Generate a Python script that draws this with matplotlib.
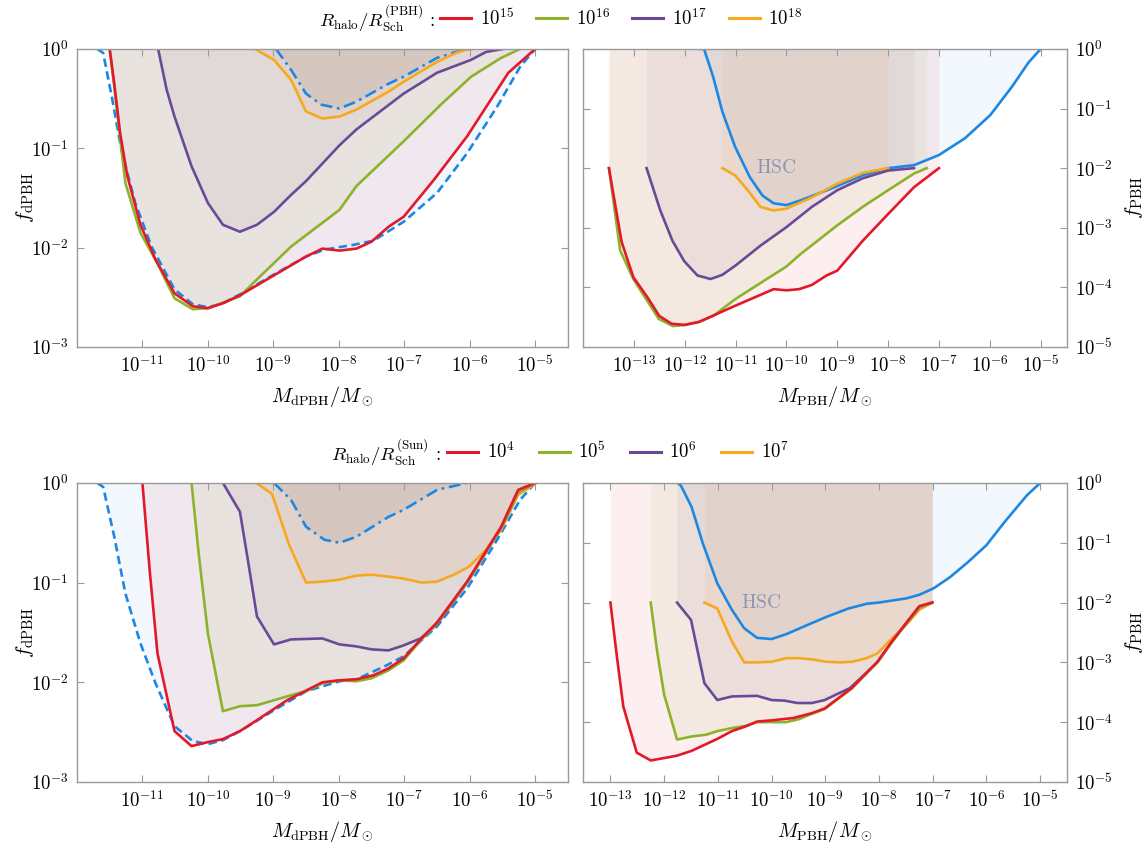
import numpy as np
import matplotlib
matplotlib.use('Agg')
import matplotlib.pyplot as plt
from matplotlib.lines import Line2D
from matplotlib.ticker import NullLocator

plt.rcParams['mathtext.fontset'] = 'cm'
plt.rcParams['font.family'] = 'serif'
plt.rcParams['font.serif'] = ['DejaVu Serif']

red = '#e3192b'
green = '#8cb32a'
purple = '#6a4a98'
orange = '#f6a81f'
blue = '#1c88e3'

# all values are log10(M/Msun), log10(f)
# ---- top left: dPBH, R_halo/R_Sch^(PBH)
tl_dash_x = [-11.69, -11.6, -11.46, -11.32, -11.11, -10.86, -10.51, -10.23, -10.0, -9.77, -9.51, -8.99, -8.5,
             -8.22, -7.76, -7.47, -7.01, -6.5, -6.04, -5.58, -5.23, -5.0]
tl_dash_y = [0, -0.04, -0.51, -1.02, -1.55, -1.99, -2.42, -2.57, -2.60, -2.56, -2.47, -2.27, -2.09,
             -2.02, -1.97, -1.93, -1.74, -1.45, -1.05, -0.58, -0.18, 0]
tl_dd_x = [-8.96, -8.73, -8.5, -8.27, -7.99, -7.73, -7.24, -7.01, -6.5, -6.21, -6.0]
tl_dd_y = [0, -0.21, -0.45, -0.56, -0.60, -0.53, -0.35, -0.28, -0.09, -0.03, 0]
tl_15_x = [-11.5, -11.43, -11.34, -11.23, -11.03, -10.8, -10.51, -10.23, -10.0, -9.77, -9.51, -9.02, -8.5,
           -8.25, -7.99, -7.73, -7.5, -7.24, -7.01, -6.55, -6.04, -5.41, -5.0]
tl_15_y = [0, -0.35, -0.85, -1.28, -1.77, -2.12, -2.46, -2.59, -2.61, -2.56, -2.48, -2.29, -2.09,
           -2.01, -2.03, -2.01, -1.94, -1.79, -1.69, -1.32, -0.88, -0.24, 0]
tl_16_x = [-11.5, -11.43, -11.34, -11.26, -11.03, -10.77, -10.51, -10.23, -10.0, -9.51, -9.25, -8.73, -7.99,
           -7.73, -7.01, -6.44, -5.98, -5.52, -5.23]
tl_16_y = [0, -0.38, -0.9, -1.35, -1.85, -2.16, -2.51, -2.62, -2.61, -2.49, -2.32, -1.99, -1.62,
           -1.38, -0.93, -0.56, -0.28, -0.09, 0]
tl_17_x = [-10.76, -10.63, -10.51, -10.25, -10.0, -9.77, -9.51, -9.25, -8.99, -8.73, -8.5, -7.99, -7.73,
           -7.01, -6.5, -5.98, -5.75, -5.49]
tl_17_y = [0, -0.41, -0.68, -1.18, -1.55, -1.77, -1.84, -1.77, -1.64, -1.47, -1.33, -0.97, -0.81,
           -0.45, -0.24, -0.11, -0.03, 0]
tl_18_x = [-9.28, -8.99, -8.73, -8.5, -8.25, -7.99, -7.73, -7.24, -7.01, -6.5, -6.21, -6.01]
tl_18_y = [0, -0.11, -0.31, -0.63, -0.70, -0.68, -0.61, -0.43, -0.33, -0.13, -0.04, 0]

# ---- top right: PBH
tr_hsc_x = [-11.7, -11.62, -11.44, -11.26, -11.01, -10.72, -10.47, -10.25, -10.0, -9.72, -9.14, -8.5, -8.0,
            -7.49, -7.0, -6.49, -5.99, -5.56, -5.24, -5.0]
tr_hsc_y = [0, 0, -0.47, -1.05, -1.64, -2.15, -2.46, -2.59, -2.62, -2.54, -2.35, -2.12, -2.0,
            -1.95, -1.78, -1.50, -1.11, -0.63, -0.23, 0]
tr_15_x = [-13.49, -13.37, -13.24, -13.01, -12.73, -12.5, -12.26, -12.0, -11.72, -11.01, -10.25, -10.0, -9.75,
           -9.5, -9.21, -9.0, -8.5, -8.0, -7.49, -7.0]
tr_15_y = [-2.0, -2.6, -3.24, -3.83, -4.17, -4.48, -4.61, -4.63, -4.58, -4.31, -4.03, -4.05, -4.03,
           -3.96, -3.80, -3.72, -3.22, -2.77, -2.32, -2.0]
tr_16_x = [-13.49, -13.27, -13.01, -12.51, -12.23, -12.0, -11.72, -11.44, -11.01, -10.0, -9.72, -9.0, -8.5,
           -8.0, -7.49, -7.24]
tr_16_y = [-2.0, -3.38, -3.86, -4.53, -4.65, -4.63, -4.58, -4.48, -4.20, -3.65, -3.44, -2.96, -2.65,
           -2.37, -2.09, -2.0]
tr_17_x = [-12.75, -12.48, -12.24, -12.01, -11.75, -11.49, -11.26, -11.01, -10.51, -10.0, -9.5, -9.0, -8.5,
           -8.0, -7.49]
tr_17_y = [-2.0, -2.71, -3.22, -3.56, -3.80, -3.86, -3.79, -3.64, -3.30, -2.99, -2.65, -2.37, -2.17,
           -2.04, -2.0]
tr_18_x = [-11.26, -11.01, -10.76, -10.51, -10.25, -10.0, -9.5, -9.0, -8.5, -8.0]
tr_18_y = [-2.0, -2.12, -2.37, -2.65, -2.71, -2.68, -2.49, -2.26, -2.08, -2.0]

# ---- bottom left: dPBH, R_halo/R_Sch^(Sun)
bl_dash_x = [-11.69, -11.6, -11.43, -11.26, -11.03, -10.8, -10.51, -10.23, -10.0, -9.77, -9.51, -8.99, -8.5,
             -7.99, -7.73, -7.3, -7.01, -6.5, -6.04, -5.58, -5.23, -5.0]
bl_dash_y = [0, -0.04, -0.54, -1.11, -1.61, -2.01, -2.44, -2.59, -2.62, -2.58, -2.49, -2.28, -2.09,
             -1.99, -1.97, -1.84, -1.74, -1.44, -1.06, -0.57, -0.17, 0]
bl_dd_x = [-8.99, -8.73, -8.5, -8.22, -7.99, -7.73, -7.24, -7.01, -6.5, -6.04]
bl_dd_y = [0, -0.17, -0.44, -0.57, -0.60, -0.54, -0.34, -0.27, -0.07, 0]
bl_4_x = [-11.0, -10.89, -10.77, -10.51, -10.25, -10.0, -9.77, -9.51, -9.25, -8.79, -8.25, -7.99, -7.73,
          -7.47, -7.24, -7.01, -6.75, -6.5, -6.04, -5.52, -5.26, -5.0]
bl_4_y = [0, -0.87, -1.71, -2.49, -2.64, -2.60, -2.57, -2.49, -2.38, -2.18, -2.0, -1.98, -1.97,
          -1.93, -1.86, -1.76, -1.57, -1.40, -0.99, -0.44, -0.07, 0]
bl_5_x = [-10.25, -10.14, -10.0, -9.77, -9.51, -9.25, -8.99, -8.73, -8.5, -8.25, -7.99, -7.73, -7.5,
          -7.24, -7.01, -6.75, -6.5, -6.04, -5.52, -5.26, -5.0]
bl_5_y = [0, -0.71, -1.51, -2.29, -2.24, -2.23, -2.18, -2.13, -2.09, -2.01, -1.98, -1.99, -1.96,
          -1.88, -1.78, -1.58, -1.41, -1.0, -0.45, -0.09, 0]
bl_6_x = [-9.77, -9.51, -9.39, -9.25, -8.99, -8.73, -8.25, -7.99, -7.73, -7.5, -7.24, -7.01, -6.75,
          -6.5, -6.27, -6.04, -5.52, -5.26, -5.0]
bl_6_y = [0, -0.29, -0.77, -1.34, -1.62, -1.57, -1.56, -1.62, -1.64, -1.67, -1.68, -1.63, -1.56,
          -1.42, -1.21, -1.0, -0.45, -0.09, 0]
bl_7_x = [-9.26, -9.02, -8.76, -8.5, -8.25, -7.99, -7.73, -7.5, -7.24, -7.01, -6.73, -6.5, -6.24,
          -6.01, -5.75, -5.52, -5.26, -5.0]
bl_7_y = [0, -0.11, -0.62, -1.0, -0.99, -0.97, -0.93, -0.92, -0.94, -0.96, -1.0, -0.99, -0.92,
          -0.84, -0.67, -0.47, -0.12, -0.01]

# ---- bottom right: PBH
br_hsc_x = [-11.75, -11.69, -11.49, -11.28, -11.01, -10.74, -10.51, -10.27, -10.0, -9.73, -9.32, -8.98, -8.57,
            -8.23, -8.0, -7.49, -7.25, -6.98, -6.67, -6.34, -6.0, -5.66, -5.25, -5.0]
br_hsc_y = [0, -0.04, -0.40, -1.01, -1.68, -2.12, -2.43, -2.59, -2.61, -2.53, -2.37, -2.24, -2.10,
            -2.02, -2.0, -1.93, -1.87, -1.76, -1.57, -1.32, -1.04, -0.65, -0.21, 0]
br_4_x = [-13.0, -12.88, -12.76, -12.51, -12.25, -12.0, -11.76, -11.49, -11.01, -10.74, -10.51, -10.27, -10.0,
          -9.59, -9.25, -9.01, -8.51, -8.03, -7.76, -7.52, -7.25, -7.01]
br_4_y = [-2.0, -2.90, -3.74, -4.51, -4.64, -4.60, -4.56, -4.48, -4.28, -4.15, -4.08, -3.99, -3.97,
          -3.93, -3.85, -3.77, -3.43, -2.99, -2.65, -2.37, -2.06, -2.0]
br_5_x = [-12.25, -12.13, -12.0, -11.76, -11.49, -11.22, -11.01, -10.74, -10.47, -10.27, -10.0, -9.73, -9.49,
          -9.25, -9.01, -8.51, -8.03, -7.76, -7.52, -7.25, -7.01]
br_5_y = [-2.0, -2.82, -3.54, -4.29, -4.24, -4.21, -4.15, -4.10, -4.06, -4.0, -4.0, -4.0, -3.95,
          -3.86, -3.78, -3.44, -3.0, -2.66, -2.38, -2.08, -2.0]
br_6_x = [-11.76, -11.5, -11.25, -11.01, -10.74, -10.27, -10.0, -9.76, -9.52, -9.25, -9.01, -8.78, -8.54,
          -8.03, -7.76, -7.52, -7.25, -7.01]
br_6_y = [-2.0, -2.29, -3.35, -3.63, -3.57, -3.56, -3.63, -3.64, -3.68, -3.68, -3.63, -3.53, -3.43,
          -3.0, -2.66, -2.38, -2.08, -2.0]
br_7_x = [-11.25, -11.01, -10.74, -10.51, -10.27, -10.0, -9.73, -9.49, -9.25, -8.98, -8.71, -8.5, -8.23,
          -8.03, -7.76, -7.49, -7.25, -7.01]
br_7_y = [-2.0, -2.10, -2.65, -3.0, -3.0, -2.99, -2.93, -2.93, -2.95, -2.99, -3.0, -2.99, -2.93,
          -2.85, -2.60, -2.37, -2.12, -2.0]

lab_pbh = [r'$10^{15}$', r'$10^{16}$', r'$10^{17}$', r'$10^{18}$']
lab_sun = [r'$10^{4}$', r'$10^{5}$', r'$10^{6}$', r'$10^{7}$']

dash = (0, (3.2, 1.7))
dashdot = (0, (4.5, 1.8, 1.0, 1.8))
a = 0.07


def curva(ax, lx, ly, c, ls='-', fc=None, fa=a):
    x = 10**np.array(lx)
    y = 10**np.array(ly)
    ax.fill_between(x, y, 1, color=fc or c, alpha=fa, lw=0)
    ax.plot(x, y, color=c, ls=ls, lw=1.9)


def eixos(ax, xlim, ylim, xt, dreta=False):
    ax.set_xscale('log')
    ax.set_yscale('log')
    ax.set_xlim(10**xlim[0], 10**xlim[1])
    ax.set_ylim(10**ylim, 1)
    ax.set_xticks([10.0**k for k in xt])
    ax.set_xticklabels([r'$10^{%d}$' % k for k in xt])
    yt = list(range(ylim, 1))
    ax.set_yticks([10.0**k for k in yt])
    ax.set_yticklabels([r'$10^{%d}$' % k for k in yt])
    ax.xaxis.set_minor_locator(NullLocator())
    ax.yaxis.set_minor_locator(NullLocator())
    ax.tick_params(direction='in', top=True, right=True, length=5, width=0.8, color='#9a9a9a',
                   labelsize=13.5, pad=6)
    for s in ax.spines.values():
        s.set_color('#9a9a9a')
        s.set_linewidth(1.0)
    if dreta:
        ax.tick_params(labelleft=False, labelright=True)
        ax.yaxis.set_label_position('right')
        ax.set_ylabel(r'$f_{\rm PBH}$', fontsize=15)
        ax.yaxis.set_label_coords(1.115, 0.5)
        ax.set_xlabel(r'$M_{\rm PBH}/M_\odot$', fontsize=14.5)
    else:
        ax.set_ylabel(r'$f_{\rm dPBH}$', fontsize=15)
        ax.yaxis.set_label_coords(-0.083, 0.5)
        ax.set_xlabel(r'$M_{\rm dPBH}/M_\odot$', fontsize=14.5)
    ax.xaxis.set_label_coords(0.5, -0.125)


fig = plt.figure(figsize=(11.47, 8.44), dpi=100)
ax1 = fig.add_axes([0.0671, 0.5889, 0.428, 0.3531])
ax2 = fig.add_axes([0.5083, 0.5889, 0.422, 0.3531])
ax3 = fig.add_axes([0.0671, 0.0735, 0.428, 0.3543])
ax4 = fig.add_axes([0.5083, 0.0735, 0.422, 0.3543])

# top left
curva(ax1, tl_dash_x, tl_dash_y, blue, dash, fa=0.055)
curva(ax1, tl_dd_x, tl_dd_y, blue, dashdot, fc='#777777', fa=0.12)
curva(ax1, tl_18_x, tl_18_y, orange)
curva(ax1, tl_17_x, tl_17_y, purple)
curva(ax1, tl_16_x, tl_16_y, green)
curva(ax1, tl_15_x, tl_15_y, red)
eixos(ax1, (-12, -4.5), -3, range(-11, -4))

# top right
curva(ax2, tr_hsc_x, tr_hsc_y, blue, fa=0.055)
curva(ax2, tr_18_x, tr_18_y, orange)
curva(ax2, tr_17_x, tr_17_y, purple)
curva(ax2, tr_16_x, tr_16_y, green)
curva(ax2, tr_15_x, tr_15_y, red)
ax2.text(10**-10.2, 10**-2, r'$\mathrm{HSC}$', color='#8a96b4', fontsize=14, ha='center', va='center')
eixos(ax2, (-14, -4.48), -5, range(-13, -4), dreta=True)

# bottom left
curva(ax3, bl_dash_x, bl_dash_y, blue, dash, fa=0.055)
curva(ax3, bl_dd_x, bl_dd_y, blue, dashdot, fc='#777777', fa=0.12)
curva(ax3, bl_7_x, bl_7_y, orange)
curva(ax3, bl_6_x, bl_6_y, purple)
curva(ax3, bl_5_x, bl_5_y, green)
curva(ax3, bl_4_x, bl_4_y, red)
eixos(ax3, (-12, -4.5), -3, range(-11, -4))

# bottom right
curva(ax4, br_hsc_x, br_hsc_y, blue, fa=0.055)
curva(ax4, br_7_x, br_7_y, orange)
curva(ax4, br_6_x, br_6_y, purple)
curva(ax4, br_5_x, br_5_y, green)
curva(ax4, br_4_x, br_4_y, red)
ax4.text(10**-10.2, 10**-2, r'$\mathrm{HSC}$', color='#8a96b4', fontsize=14, ha='center', va='center')
eixos(ax4, (-13.51, -4.5), -5, range(-13, -4), dreta=True)

# llegendes
colors = [red, green, purple, orange]
h = [Line2D([], [], color=c, lw=2.2) for c in colors]
fig.text(0.379, 0.978, r'$R_{\rm halo}/R_{\rm Sch}^{\rm (PBH)}\,:$', fontsize=13.5, ha='right', va='center')
fig.legend(h, lab_pbh, loc='center left', bbox_to_anchor=(0.384, 0.978), ncol=4, frameon=False,
           fontsize=13.5, handlelength=1.65, handletextpad=0.45, columnspacing=1.2,
           borderpad=0, borderaxespad=0)
fig.text(0.384, 0.4645, r'$R_{\rm halo}/R_{\rm Sch}^{\rm (Sun)}\,:$', fontsize=13.5, ha='right', va='center')
fig.legend(h, lab_sun, loc='center left', bbox_to_anchor=(0.39, 0.4645), ncol=4, frameon=False,
           fontsize=13.5, handlelength=1.65, handletextpad=0.45, columnspacing=1.3,
           borderpad=0, borderaxespad=0)

fig.savefig('out.png', dpi=100)
